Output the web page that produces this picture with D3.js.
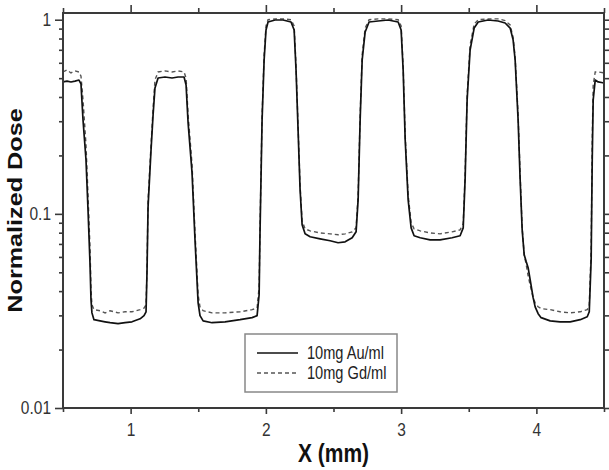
<!DOCTYPE html>
<html>
<head>
<meta charset="utf-8">
<script src="https://cdn.jsdelivr.net/npm/d3@7/dist/d3.min.js"></script>
<style>
  html, body { margin: 0; padding: 0; background: #fff; }
  svg { display: block; }
</style>
</head>
<body>
<svg id="chart" width="609" height="470"></svg>
<script>
// ---- data (x in mm, normalized dose) ----
const xMm = [0.500,0.530,0.559,0.589,0.618,0.633,0.648,0.670,0.685,0.700,0.707,0.714,0.729,0.774,0.811,0.848,0.907,0.959,1.010,1.070,1.099,1.114,1.121,1.129,1.151,1.166,1.180,1.203,1.254,1.306,1.351,1.395,1.410,1.425,1.454,1.476,1.499,1.513,1.536,1.602,1.698,1.809,1.898,1.935,1.950,1.957,1.972,1.987,2.001,2.016,2.068,2.127,2.186,2.209,2.223,2.238,2.253,2.268,2.290,2.327,2.401,2.475,2.534,2.586,2.638,2.667,2.682,2.697,2.712,2.734,2.763,2.830,2.904,2.978,3.000,3.015,3.030,3.052,3.074,3.096,3.141,3.214,3.288,3.377,3.436,3.459,3.473,3.488,3.510,3.540,3.570,3.643,3.717,3.769,3.806,3.828,3.843,3.865,3.880,3.895,3.910,3.925,3.939,3.954,3.976,3.991,4.013,4.035,4.102,4.175,4.250,4.324,4.376,4.391,4.405,4.413,4.420,4.435,4.457,4.501];
const auDose = [0.478,0.483,0.478,0.483,0.489,0.467,0.305,0.190,0.105,0.0547,0.0361,0.0309,0.0285,0.0281,0.0278,0.0275,0.0272,0.0275,0.0278,0.0288,0.0299,0.0313,0.0497,0.109,0.214,0.323,0.445,0.501,0.507,0.501,0.507,0.507,0.461,0.294,0.163,0.0735,0.0348,0.0299,0.0281,0.0275,0.0278,0.0285,0.0292,0.0299,0.0383,0.0827,0.305,0.620,0.885,0.973,0.997,0.997,0.973,0.885,0.551,0.271,0.133,0.0878,0.0789,0.0762,0.0744,0.0727,0.0710,0.0718,0.0753,0.0808,0.118,0.305,0.620,0.865,0.973,0.985,0.997,0.973,0.885,0.551,0.241,0.118,0.0847,0.0771,0.0753,0.0735,0.0735,0.0753,0.0771,0.0847,0.150,0.386,0.698,0.906,0.973,0.997,0.985,0.962,0.906,0.787,0.620,0.305,0.150,0.0827,0.0615,0.0566,0.0528,0.0458,0.0370,0.0332,0.0306,0.0292,0.0281,0.0278,0.0278,0.0285,0.0295,0.0313,0.058,0.190,0.386,0.489,0.478,0.472];
const gdDose = [0.538,0.551,0.532,0.545,0.538,0.512,0.386,0.227,0.125,0.066,0.041,0.034,0.0321,0.0317,0.0309,0.0317,0.0309,0.0313,0.0313,0.0321,0.0327,0.034,0.052,0.118,0.227,0.35,0.489,0.538,0.545,0.538,0.545,0.538,0.501,0.323,0.18,0.0808,0.0383,0.0332,0.0317,0.0309,0.0309,0.0313,0.0321,0.0327,0.042,0.0878,0.323,0.66,0.93,1.0,1.01,1.01,1.0,0.93,0.58,0.285,0.14,0.092,0.0837,0.0817,0.0798,0.0789,0.078,0.0789,0.0808,0.0847,0.125,0.323,0.66,0.906,1.0,1.01,1.01,1.0,0.93,0.58,0.255,0.125,0.09,0.0837,0.0817,0.0798,0.0789,0.0808,0.0827,0.089,0.16,0.41,0.74,0.95,1.0,1.01,1.01,0.99,0.94,0.81,0.64,0.323,0.16,0.085,0.0615,0.0547,0.048,0.043,0.037,0.0348,0.0332,0.0325,0.0321,0.0313,0.0309,0.0313,0.0321,0.034,0.066,0.241,0.461,0.538,0.538,0.532];
const seriesNames = ["10mg Au/ml", "10mg Gd/ml"];
const xMajorTicks = [1, 2, 3, 4];
const xMinorTicks = [0.5, 1.5, 2.5, 3.5, 4.5];
const yMajorTicks = [0.01, 0.1, 1];
const yMajorLabels = ["0.01", "0.1", "1"];
const yMinorTicks = [0.02,0.03,0.04,0.05,0.06,0.07,0.08,0.09,0.2,0.3,0.4,0.5,0.6,0.7,0.8,0.9];
const xTitle = "X (mm)";
const yTitle = "Normalized Dose";

// ---- layout ----
const L = 63, R = 604, T = 13, B = 408;
const STRETCH = 1.2; // the reference's text is vertically stretched
const svg = d3.select("#chart");
const x = d3.scaleLinear().domain([0.5, 4.5]).range([L, R]);
const y = d3.scaleLog().domain([0.01, 1.083]).range([B, T]);

const axisColor = "#3a3a3a";
const font = "'Liberation Sans', Arial, sans-serif";

// lines
svg.append("clipPath").attr("id", "clip")
  .append("rect").attr("x", L).attr("y", T).attr("width", R - L).attr("height", B - T);
const g = svg.append("g").attr("clip-path", "url(#clip)");
const auData = xMm.map((v, i) => [v, auDose[i]]);
const gdData = xMm.map((v, i) => [v, gdDose[i]]);
const line = d3.line().x(d => x(d[0])).y(d => y(d[1]));
g.append("path").datum(gdData).attr("d", line)
  .attr("fill", "none").attr("stroke", "#555").attr("stroke-width", 1.4)
  .attr("stroke-dasharray", "4,3");
g.append("path").datum(auData).attr("d", line)
  .attr("fill", "none").attr("stroke", "#111").attr("stroke-width", 1.7)
  .attr("stroke-linejoin", "round");

function styleAxis(sel) {
  sel.select(".domain").remove();
  sel.selectAll(".tick line").attr("stroke", axisColor).attr("stroke-width", 1.6);
  sel.selectAll(".tick text").attr("fill", "#333").style("font-family", font).style("font-size", "15.5px");
}

// bottom
const bottomMajor = svg.append("g").attr("transform", `translate(0,${B})`)
  .call(d3.axisBottom(x).tickValues(xMajorTicks).tickSize(6).tickPadding(9).tickFormat(d3.format("d")))
  .call(styleAxis);
bottomMajor.selectAll(".tick text").each(function () {
  const t = d3.select(this);
  const yy = +t.attr("y");
  t.attr("y", 0).attr("transform", `translate(0,${yy}) scale(1,${STRETCH})`);
});
svg.append("g").attr("transform", `translate(0,${B})`)
  .call(d3.axisBottom(x).tickValues(xMinorTicks).tickSize(4).tickFormat(""))
  .call(styleAxis);
// top
svg.append("g").attr("transform", `translate(0,${T})`)
  .call(d3.axisTop(x).tickValues(xMajorTicks).tickSize(8).tickFormat(""))
  .call(styleAxis);
svg.append("g").attr("transform", `translate(0,${T})`)
  .call(d3.axisTop(x).tickValues(xMinorTicks).tickSize(5).tickFormat(""))
  .call(styleAxis);
// left
const leftMajor = svg.append("g").attr("transform", `translate(${L},0)`)
  .call(d3.axisLeft(y).tickValues(yMajorTicks).tickSize(8).tickPadding(4)
    .tickFormat((d, i) => yMajorLabels[i]))
  .call(styleAxis);
leftMajor.selectAll(".tick text").attr("transform", `scale(1,${STRETCH})`);
svg.append("g").attr("transform", `translate(${L},0)`)
  .call(d3.axisLeft(y).tickValues(yMinorTicks).tickSize(4).tickFormat(""))
  .call(styleAxis);
// right
svg.append("g").attr("transform", `translate(${R},0)`)
  .call(d3.axisRight(y).tickValues(yMajorTicks).tickSize(8).tickFormat(""))
  .call(styleAxis);
svg.append("g").attr("transform", `translate(${R},0)`)
  .call(d3.axisRight(y).tickValues(yMinorTicks).tickSize(5).tickFormat(""))
  .call(styleAxis);

// frame
svg.append("rect").attr("x", L).attr("y", T).attr("width", R - L).attr("height", B - T)
  .attr("fill", "none").attr("stroke", axisColor).attr("stroke-width", 2);

// titles
svg.append("text").attr("transform", `translate(${(L + R) / 2},462) scale(1,${STRETCH})`)
  .attr("text-anchor", "middle")
  .style("font-family", font).style("font-size", "21px").style("font-weight", "bold")
  .attr("fill", "#111").text(xTitle);
svg.append("text").attr("transform", `translate(22,${(T + B) / 2}) rotate(-90) scale(${STRETCH},1)`)
  .attr("text-anchor", "middle")
  .style("font-family", font).style("font-size", "21px").style("font-weight", "bold")
  .attr("fill", "#111").text(yTitle);

// legend
const lg = svg.append("g").attr("transform", "translate(245,334)");
lg.append("rect").attr("x", 0).attr("y", 0).attr("width", 152).attr("height", 58)
  .attr("fill", "#fff").attr("stroke", "#888").attr("stroke-width", 1.5);
const legStyles = [
  { stroke: "#111", dash: null, w: 1.7 },
  { stroke: "#555", dash: "4,3", w: 1.4 }
];
seriesNames.forEach((name, i) => {
  const yy = 19 + i * 20;
  lg.append("line").attr("x1", 12).attr("x2", 53).attr("y1", yy).attr("y2", yy)
    .attr("stroke", legStyles[i].stroke).attr("stroke-width", legStyles[i].w)
    .attr("stroke-dasharray", legStyles[i].dash);
  lg.append("text").attr("transform", `translate(62,${yy + 6}) scale(1,${STRETCH})`)
    .style("font-family", font).style("font-size", "14.6px").attr("fill", "#222").text(name);
});
</script>
</body>
</html>
